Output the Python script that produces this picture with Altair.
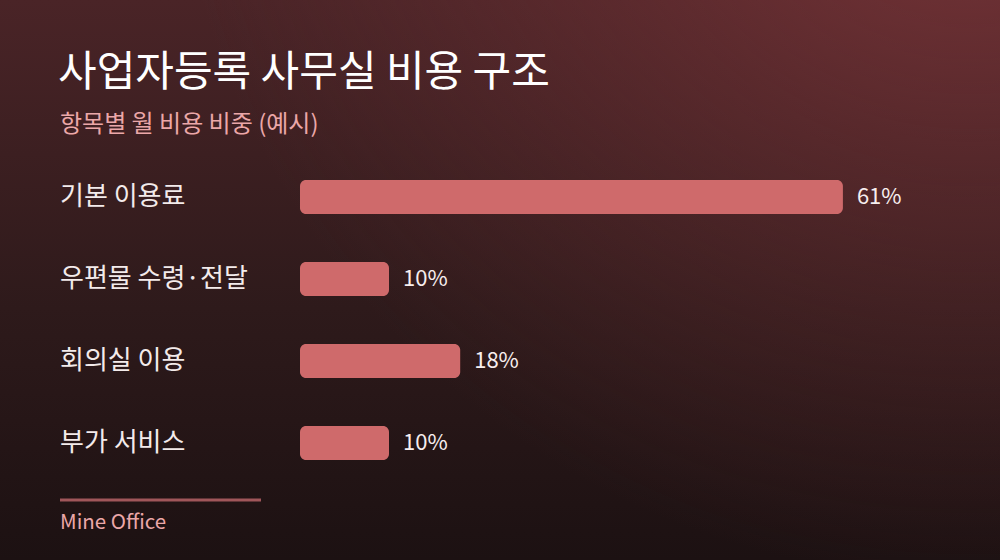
import altair as alt
import pandas as pd

categories = ["기본 이용료", "우편물 수령·전달", "회의실 이용", "부가 서비스"]
values = [61, 10, 18, 10]
value_labels = ["61%", "10%", "18%", "10%"]

title_text = "사업자등록 사무실 비용 구조"
subtitle_text = "항목별 월 비용 비중 (예시)"
footer_text = "Mine Office"

FONT = "Noto Sans CJK KR"
W, H = 1000, 560

df = pd.DataFrame({"cat": categories, "val": values, "lbl": value_labels})
one = alt.Data(values=[{"k": 1}])

y_enc = alt.Y("cat:N", sort=categories, axis=None,
              scale=alt.Scale(range=[156, 484], paddingInner=0, paddingOuter=0))
x_enc = alt.X("val:Q", axis=None, scale=alt.Scale(domain=[0, 100], range=[300, 1190]))

bg = alt.Chart(one).mark_rect(
    fill=alt.LinearGradient(gradient="linear", x1=0, y1=0, x2=0, y2=1,
                            stops=[alt.GradientStop(color="#4a2427", offset=0),
                                   alt.GradientStop(color="#2e1a1b", offset=0.55),
                                   alt.GradientStop(color="#1c1112", offset=1)])
).encode(x=alt.value(0), x2=alt.value(W), y=alt.value(0), y2=alt.value(H))

glow = alt.Chart(one).mark_rect(
    fill=alt.RadialGradient(gradient="radial", x1=0.97, y1=0.0, r1=0, x2=0.97, y2=0.0, r2=0.8,
                            stops=[alt.GradientStop(color="rgba(130,56,60,0.95)", offset=0),
                                   alt.GradientStop(color="rgba(115,50,54,0.5)", offset=0.45),
                                   alt.GradientStop(color="rgba(100,45,48,0)", offset=1)])
).encode(x=alt.value(0), x2=alt.value(W), y=alt.value(0), y2=alt.value(H))

bars = alt.Chart(df).mark_bar(color="#cf6a6b", size=34, cornerRadius=6).encode(
    x=x_enc, x2=alt.datum(0), y=y_enc)

vlabels = alt.Chart(df).mark_text(align="left", baseline="middle", dx=14, font=FONT,
                                  fontSize=22, color="#f7eeee").encode(
    x=x_enc, y=y_enc, text="lbl:N")

clabels = alt.Chart(df).mark_text(align="left", baseline="middle", font=FONT,
                                  fontSize=26, color="#f3ebeb").encode(
    x=alt.value(60), y=y_enc, text="cat:N")

title = alt.Chart(one).mark_text(align="left", baseline="alphabetic", font=FONT,
                                 fontSize=42, fontWeight=400, color="#ffffff", text=title_text
                                 ).encode(x=alt.value(58), y=alt.value(86))
subtitle = alt.Chart(one).mark_text(align="left", baseline="alphabetic", font=FONT,
                                    fontSize=24, color="#eba7a8", text=subtitle_text
                                    ).encode(x=alt.value(60), y=alt.value(132))
rule = alt.Chart(one).mark_rule(color="#a0565a", strokeWidth=3).encode(
    x=alt.value(60), x2=alt.value(261), y=alt.value(500))
footer = alt.Chart(one).mark_text(align="left", baseline="alphabetic", font=FONT,
                                  fontSize=20.5, color="#eba7a8", text=footer_text
                                  ).encode(x=alt.value(60), y=alt.value(529))

chart = alt.layer(bg, glow, bars, vlabels, clabels, title, subtitle, rule, footer).properties(
    width=W, height=H, padding=0, autosize=alt.AutoSizeParams(type="none"),
    background="#1c1112"
).resolve_scale(x="shared", y="shared").configure_view(stroke=None)

chart.save("out.html", embed_options={"renderer": "svg", "actions": False,
                                      "defaultStyle": "html,body{margin:0;padding:0;background:#1c1112;overflow:hidden}"})
